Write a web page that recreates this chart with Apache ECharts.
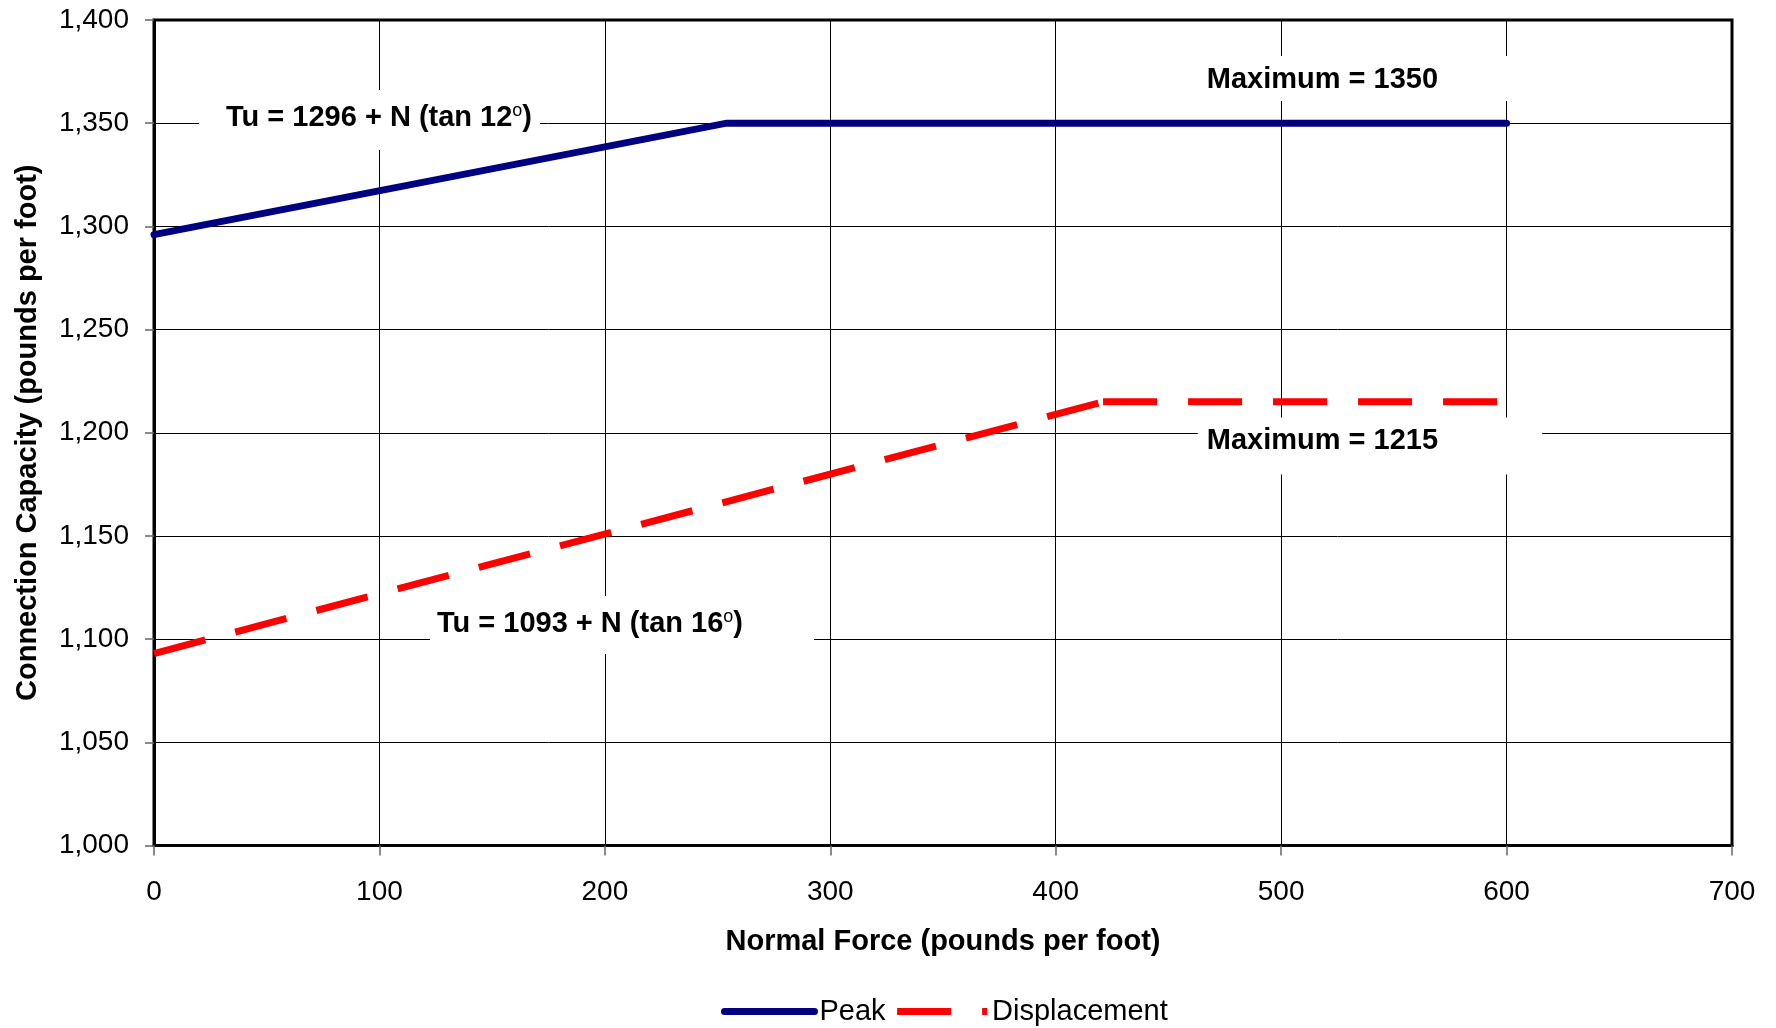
<!DOCTYPE html>
<html>
<head>
<meta charset="utf-8">
<script src="https://cdn.jsdelivr.net/npm/echarts@6/dist/echarts.min.js"></script>
<style>
html,body{margin:0;padding:0;background:#fff;}
#chart{width:1776px;height:1028px;}
</style>
</head>
<body>
<div id="chart"></div>
<script>
// ---- Data ----
const peakX = [0, 254, 600];
const peakY = [1296, 1350, 1350];
const dispX = [0, 421, 600];
const dispY = [1093, 1215, 1215];

const xTicks = [0, 100, 200, 300, 400, 500, 600, 700];
const yTicks = [1000, 1050, 1100, 1150, 1200, 1250, 1300, 1350, 1400];

const seriesNames = ['Peak', 'Displacement'];
const xTitle = 'Normal Force (pounds per foot)';
const yTitle = 'Connection Capacity (pounds per foot)';

// annotations (data coordinates of box centres)
const annoText = [
  '{t|Tu = 1296 + N (tan 12}{s|o}{t|)}',
  '{t|Maximum = 1350}',
  '{t|Maximum = 1215}',
  '{t|Tu = 1093 + N (tan 16}{s|o}{t|)}'
];
const annoX = [95.6, 539.4, 539.4, 207.6];
const annoY = [1351.6, 1371.7, 1193.6, 1106.9];
const annoPad = [
  [12, 8, 16, 27],
  [10, 104, 6, 9],
  [9, 104, 19, 9],
  [12, 71, 14, 7]
];

const FONT = '"Liberation Sans", Arial, Helvetica, sans-serif';

const chart = echarts.init(document.getElementById('chart'), null, {renderer: 'canvas'});

const richStyle = {
  t: {fontFamily: FONT, fontSize: 29, fontWeight: 'bold', color: '#000', textBorderWidth: 0},
  s: {fontFamily: FONT, fontSize: 18, fontWeight: 'normal', color: '#000', textBorderWidth: 0, padding: [0, 0, 14, 0]}
};

const annoData = annoText.map((txt, i) => ({
  value: [annoX[i], annoY[i]],
  label: {
    show: true,
    position: 'inside',
    align: 'center',
    verticalAlign: 'middle',
    formatter: txt,
    color: '#000',
    textBorderWidth: 0,
    opacity: 1,
    backgroundColor: '#ffffff',
    padding: annoPad[i],
    rich: richStyle
  }
}));

// Displacement line drawn per segment (dash pattern restarts at the kink)
const dispPts = dispX.map((x, i) => [x, dispY[i]]);
const dispSlope = dispPts.slice(0, 2);
const dispFlat = dispPts.slice(1, 3);

const option = {
  animation: false,
  backgroundColor: '#ffffff',
  grid: {
    left: 154, right: 44, top: 20, bottom: 182.5,
    show: true, borderColor: '#000', borderWidth: 3, backgroundColor: 'transparent'
  },
  legend: {
    data: seriesNames,
    left: 721,
    top: 997,
    padding: 0,
    itemWidth: 90,
    itemHeight: 14,
    itemGap: 8,
    textStyle: {fontFamily: FONT, fontSize: 29, color: '#000'},
    itemStyle: {color: 'rgba(0,0,0,0)', borderColor: 'rgba(0,0,0,0)', borderWidth: 0},
    lineStyle: {width: 7},
    selectedMode: false
  },
  xAxis: {
    type: 'value',
    min: xTicks[0],
    max: xTicks[xTicks.length - 1],
    interval: xTicks[1] - xTicks[0],
    name: xTitle,
    nameLocation: 'middle',
    nameGap: 82,
    nameTextStyle: {fontFamily: FONT, fontSize: 29, fontWeight: 'bold', color: '#000'},
    axisLine: {show: true, onZero: false, lineStyle: {color: '#000', width: 3}},
    axisTick: {show: true, length: 10, lineStyle: {color: '#666', width: 1.5}},
    axisLabel: {fontFamily: FONT, fontSize: 28, color: '#000', margin: 33},
    splitLine: {show: true, lineStyle: {color: '#000', width: 1}}
  },
  yAxis: {
    type: 'value',
    min: yTicks[0],
    max: yTicks[yTicks.length - 1],
    interval: yTicks[1] - yTicks[0],
    name: yTitle,
    nameLocation: 'middle',
    nameGap: 112,
    nameRotate: 90,
    nameTextStyle: {fontFamily: FONT, fontSize: 29, fontWeight: 'bold', color: '#000'},
    axisLine: {show: true, lineStyle: {color: '#000', width: 3}},
    axisTick: {show: true, length: 9, lineStyle: {color: '#666', width: 1.5}},
    axisLabel: {
      fontFamily: FONT, fontSize: 28, color: '#000', margin: 25,
      padding: [5, 0, 0, 0],
      formatter: v => v.toLocaleString('en-US')
    },
    splitLine: {show: true, lineStyle: {color: '#000', width: 1}}
  },
  series: [
    {
      name: seriesNames[0],
      type: 'line',
      data: peakX.map((x, i) => [x, peakY[i]]),
      symbol: 'none',
      color: '#000080',
      lineStyle: {color: '#000080', width: 7, cap: 'round', join: 'miter'},
      z: 3,
      silent: true
    },
    {
      name: seriesNames[1],
      type: 'line',
      data: dispFlat,
      symbol: 'none',
      color: '#ff0000',
      lineStyle: {color: '#ff0000', width: 7, type: [54, 31], cap: 'butt'},
      z: 3,
      silent: true
    },
    {
      name: seriesNames[1],
      type: 'line',
      data: dispSlope,
      symbol: 'none',
      color: '#ff0000',
      lineStyle: {color: '#ff0000', width: 7, type: [53, 31], cap: 'butt'},
      z: 3,
      silent: true
    },
    {
      name: 'annotations',
      type: 'scatter',
      data: annoData,
      symbolSize: 1,
      itemStyle: {color: 'rgba(0,0,0,0)'},
      z: 4,
      silent: true
    }
  ]
};

chart.setOption(option);
</script>
</body>
</html>
